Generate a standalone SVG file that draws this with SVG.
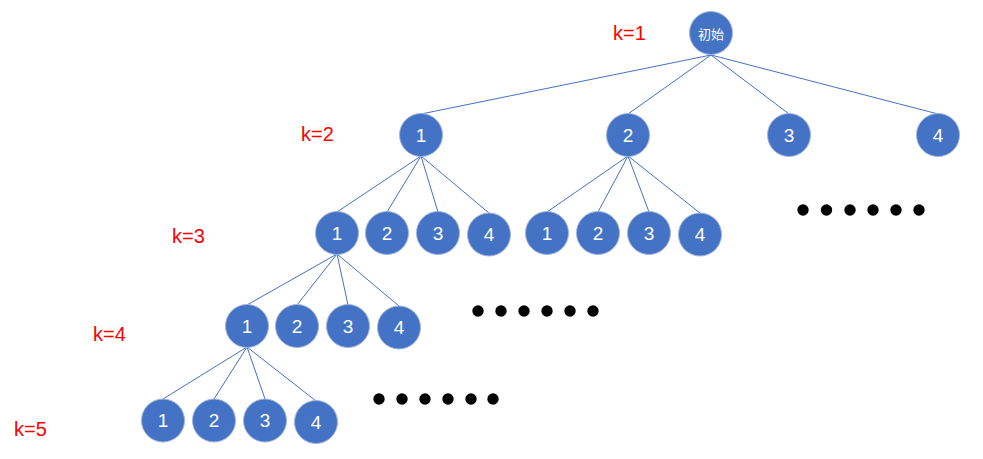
<svg xmlns="http://www.w3.org/2000/svg" width="983" height="459" viewBox="0 0 983 459">
<style>
.n circle{fill:#4472C4;stroke:#9fb3da;stroke-width:1}
.n text{fill:#fff;font-family:"Liberation Sans","Open Sans",sans-serif;font-size:19px;text-anchor:middle;dominant-baseline:central}
.n text.cjk{font-family:"Noto Sans CJK SC",sans-serif;font-size:13px}
.lbl{fill:#FF0000;font-family:"Liberation Sans","Open Sans",sans-serif;font-size:20px}
.c line{stroke:#4472C4;stroke-width:1}
.d circle{fill:#000}
</style>
<rect width="983" height="459" fill="#fff"/>
<g class="c" id="connectors">
<line x1="711" y1="55" x2="421" y2="114"/>
<line x1="711" y1="55" x2="628" y2="114"/>
<line x1="711" y1="55" x2="789" y2="114"/>
<line x1="711" y1="55" x2="938" y2="114"/>
<line x1="421" y1="156" x2="337" y2="212"/>
<line x1="421" y1="156" x2="387" y2="212"/>
<line x1="421" y1="156" x2="438" y2="212"/>
<line x1="421" y1="156" x2="489" y2="213"/>
<line x1="628" y1="156" x2="547" y2="212"/>
<line x1="628" y1="156" x2="598" y2="212"/>
<line x1="628" y1="156" x2="649" y2="212"/>
<line x1="628" y1="156" x2="700" y2="213"/>
<line x1="337" y1="254" x2="247" y2="305"/>
<line x1="337" y1="254" x2="297" y2="305"/>
<line x1="337" y1="254" x2="348" y2="305"/>
<line x1="337" y1="254" x2="399" y2="306"/>
<line x1="247" y1="347" x2="163" y2="399"/>
<line x1="247" y1="347" x2="214" y2="399"/>
<line x1="247" y1="347" x2="265" y2="399"/>
<line x1="247" y1="347" x2="316" y2="401"/>
</g>
<g id="labels">
<text class="lbl" x="613" y="40">k=1</text>
<text class="lbl" x="301" y="141">k=2</text>
<text class="lbl" x="172" y="243">k=3</text>
<text class="lbl" x="93" y="341">k=4</text>
<text class="lbl" x="14" y="436">k=5</text>
</g>
<g class="n" id="root"><circle cx="711" cy="33" r="21.5"/><text class="cjk" x="711" y="33">初始</text></g>
<g class="n" id="k2-1"><circle cx="421" cy="135" r="21.5"/><text x="421" y="135">1</text></g>
<g class="n" id="k2-2"><circle cx="628" cy="135" r="21.5"/><text x="628" y="135">2</text></g>
<g class="n" id="k2-3"><circle cx="789" cy="135" r="21.5"/><text x="789" y="135">3</text></g>
<g class="n" id="k2-4"><circle cx="938" cy="135" r="21.5"/><text x="938" y="135">4</text></g>
<g class="n" id="k3-1"><circle cx="337" cy="233" r="21.5"/><text x="337" y="233">1</text></g>
<g class="n" id="k3-2"><circle cx="387" cy="233" r="21.5"/><text x="387" y="233">2</text></g>
<g class="n" id="k3-3"><circle cx="438" cy="233" r="21.5"/><text x="438" y="233">3</text></g>
<g class="n" id="k3-4"><circle cx="489" cy="234.5" r="21.5"/><text x="489" y="234.5">4</text></g>
<g class="n" id="k3-b1"><circle cx="547" cy="233" r="21.5"/><text x="547" y="233">1</text></g>
<g class="n" id="k3-b2"><circle cx="598" cy="233" r="21.5"/><text x="598" y="233">2</text></g>
<g class="n" id="k3-b3"><circle cx="649" cy="233" r="21.5"/><text x="649" y="233">3</text></g>
<g class="n" id="k3-b4"><circle cx="700" cy="234.5" r="21.5"/><text x="700" y="234.5">4</text></g>
<g class="n" id="k4-1"><circle cx="247" cy="326" r="21.5"/><text x="247" y="326">1</text></g>
<g class="n" id="k4-2"><circle cx="297" cy="326" r="21.5"/><text x="297" y="326">2</text></g>
<g class="n" id="k4-3"><circle cx="348" cy="326" r="21.5"/><text x="348" y="326">3</text></g>
<g class="n" id="k4-4"><circle cx="399" cy="327.5" r="21.5"/><text x="399" y="327.5">4</text></g>
<g class="n" id="k5-1"><circle cx="163" cy="420.5" r="21.5"/><text x="163" y="420.5">1</text></g>
<g class="n" id="k5-2"><circle cx="214" cy="420.5" r="21.5"/><text x="214" y="420.5">2</text></g>
<g class="n" id="k5-3"><circle cx="265" cy="420.5" r="21.5"/><text x="265" y="420.5">3</text></g>
<g class="n" id="k5-4"><circle cx="316" cy="422" r="21.5"/><text x="316" y="422">4</text></g>
<g class="d" id="dots1">
<circle cx="803" cy="210" r="5.7"/><circle cx="826.5" cy="210" r="5.7"/><circle cx="850" cy="210" r="5.7"/><circle cx="873" cy="210" r="5.7"/><circle cx="896" cy="210" r="5.7"/><circle cx="919" cy="210" r="5.7"/>
</g>
<g class="d" id="dots2">
<circle cx="478" cy="311" r="5.7"/><circle cx="501" cy="311" r="5.7"/><circle cx="524" cy="311" r="5.7"/><circle cx="547" cy="311" r="5.7"/><circle cx="570" cy="311" r="5.7"/><circle cx="593" cy="311" r="5.7"/>
</g>
<g class="d" id="dots3">
<circle cx="379" cy="399" r="5.7"/><circle cx="402" cy="399" r="5.7"/><circle cx="425" cy="399" r="5.7"/><circle cx="448" cy="399" r="5.7"/><circle cx="471" cy="399" r="5.7"/><circle cx="493" cy="399" r="5.7"/>
</g>
</svg>
